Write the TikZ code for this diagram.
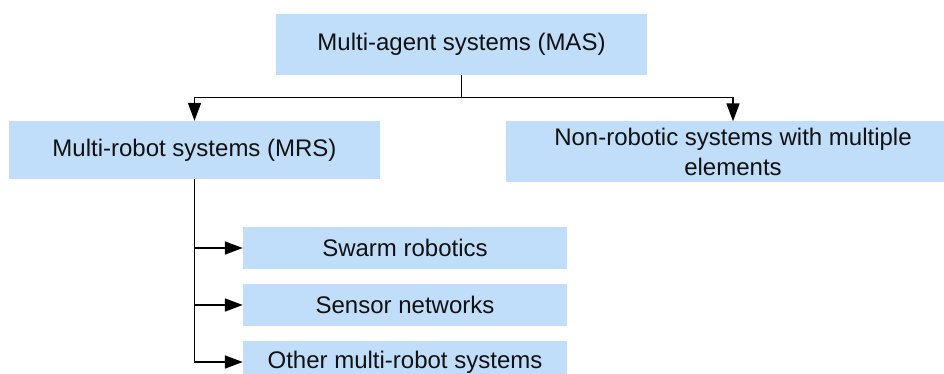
\documentclass[tikz,border=0pt]{standalone}
\usepackage{fontspec}
\setmainfont{Liberation Sans}
\usetikzlibrary{arrows.meta}
\definecolor{boxblue}{RGB}{192,222,250}
\definecolor{txt}{RGB}{17,17,17}
\tikzset{
  box/.style={rectangle, fill=boxblue, draw=none, inner sep=0pt, text=txt,
    font=\fontsize{24}{30}\selectfont, align=center},
  conn/.style={line width=1.7pt, draw=black},
  arr/.style={conn, -{Triangle[length=18pt,width=13pt]}}
}
\begin{document}
\begin{tikzpicture}[x=1pt,y=-1pt]
\clip (0,0) rectangle (944,374);
\node[box, minimum width=371, minimum height=61] (mas) at (461.5,44.5) {\raisebox{-1.5pt}{Multi-agent systems (MAS)}};
\node[box, minimum width=371, minimum height=58] (mrs) at (194.5,150) {\raisebox{-2pt}{Multi-robot systems (MRS)}};
\node[box, minimum width=454, minimum height=61] (nr) at (733,152) {Non-robotic systems with multiple\\elements};
\node[box, minimum width=324, minimum height=42] (swarm) at (405,248) {Swarm robotics};
\node[box, minimum width=324, minimum height=42] (sensor) at (405,305) {Sensor networks};
\node[box, minimum width=324, minimum height=42] (other) at (405,362) {Other multi-robot systems};
\coordinate (j) at (461.5,97.5);
\draw[conn] (mas.south) -- (j);
\draw[arr] (j) -| (mrs.north);
\draw[arr] (j) -| (nr.north);
\draw[arr] (mrs.south) |- (swarm.west);
\draw[arr] (mrs.south) |- (sensor.west);
\draw[arr] (mrs.south) |- (other.west);
\end{tikzpicture}
\end{document}
